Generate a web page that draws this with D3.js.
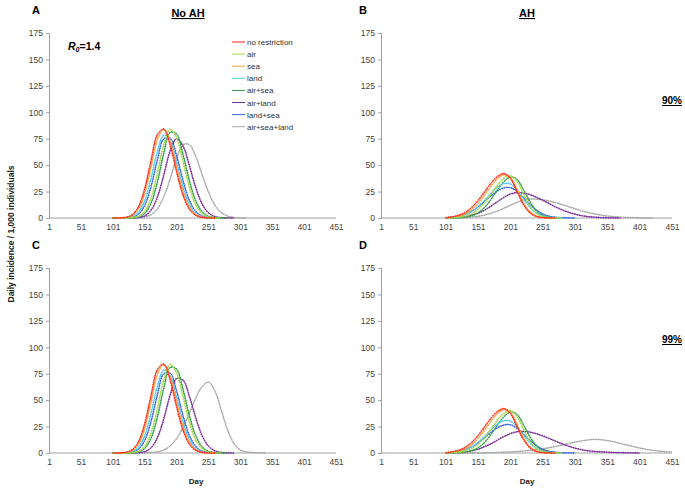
<!DOCTYPE html>
<html>
<head>
<meta charset="utf-8">
<script src="https://cdn.jsdelivr.net/npm/d3@7"></script>
<style>
  body { margin: 0; background: #fff; }
  svg { font-family: Arial, "Liberation Sans", sans-serif; }
  .tick text { fill: #444; font-size: 8.5px; }
</style>
</head>
<body>
<svg id="chart" width="685" height="489"></svg>
<script>
// days sampled every 10 days, first value at day 101
var days = d3.range(101, 452, 10)
var xTicks = [1, 51, 101, 151, 201, 251, 301, 351, 401, 451]
var yTicks = [0, 25, 50, 75, 100, 125, 150, 175]

var seriesNames = ['no restriction', 'air', 'sea', 'land', 'air+sea', 'air+land', 'land+sea', 'air+sea+land']
var seriesColors = ['#ff2a1a', '#a8d84a', '#ffa040', '#48c8ee', '#2f9a4a', '#7a2a9a', '#3a64e0', '#a8a8a8']

// A: No AH, 90%
var noRestrA = [0, 0.1, 0.6, 2.8, 10.3, 27.6, 54.4, 78.8, 84.0, 68.8, 43.9, 21.8, 8.4, 2.5, 0.6, 0.1, 0]
var airA = [0, 0, 0, 0.3, 1.5, 6.3, 19.1, 42.6, 69.7, 84.0, 75.9, 53.5, 29.4, 12.6, 4.2, 1.1, 0.2, 0]
var seaA = [0, 0.1, 0.4, 2.1, 8.0, 22.9, 48.1, 74.1, 84.0, 72.2, 48.4, 25.3, 10.3, 3.3, 0.8, 0.2, 0]
var landA = [0, 0, 0.2, 1.2, 5.2, 16.3, 37.4, 63.3, 78.5, 72.9, 52.7, 29.6, 13.0, 4.4, 1.2, 0.2, 0]
var airSeaA = [0, 0, 0, 0.1, 0.9, 4.2, 14.0, 34.1, 61.4, 81.0, 79.3, 60.3, 35.6, 16.4, 5.9, 1.6, 0.4, 0.1, 0]
var airLandA = [0, 0, 0, 0.1, 0.4, 2.0, 7.3, 19.8, 40.7, 63.4, 75.0, 68.4, 49.8, 28.9, 13.4, 4.9, 1.4, 0.3, 0.1, 0]
var landSeaA = [0, 0, 0.1, 0.7, 3.4, 11.8, 29.7, 55.1, 75.0, 75.6, 58.9, 35.7, 16.8, 6.2, 1.8, 0.4, 0.1, 0]
var allA = [0, 0, 0, 0, 0.2, 0.9, 3.1, 8.8, 20.0, 37.2, 56.3, 69.2, 69.5, 58.4, 41.3, 24.5, 12.2, 5.1, 1.8, 0.5, 0.1, 0]

// C: No AH, 99% (only the last two differ from A)
var airLandC = [0, 0, 0, 0, 0.2, 1.3, 4.9, 14.5, 32.4, 54.9, 70.4, 69.1, 53.9, 33.5, 16.5, 6.5, 2.0, 0.5, 0.1, 0]
var allC = [0, 0, 0, 0, 0, 0.1, 0.4, 1.1, 2.9, 6.7, 13.6, 24.1, 37.7, 51.9, 62.8, 67.0, 59.1, 40.7, 21.8, 9.0, 2.9, 1.0, 0.4, 0.1, 0]

// B: AH, 90%
var noRestrB = [0.2, 1.1, 2.6, 5.3, 9.9, 16.5, 24.6, 32.9, 39.3, 42.0, 37.5, 25.5, 13.1, 5.1, 1.5, 0.3, 0.1, 0]
var airB = [0.1, 0.2, 0.7, 1.8, 4.0, 8.1, 14.4, 22.5, 31.0, 37.5, 40.0, 34.8, 23.0, 11.5, 4.4, 1.3, 0.3, 0.1, 0]
var seaB = [0.2, 0.7, 1.7, 3.9, 7.7, 13.7, 21.5, 29.9, 37.1, 40.8, 38.3, 27.5, 14.9, 6.1, 1.9, 0.5, 0.1, 0]
var landB = [0.2, 0.6, 1.5, 3.1, 6.1, 10.7, 16.7, 23.3, 29.1, 32.5, 32.2, 26.7, 18.3, 10.4, 4.9, 1.9, 0.6, 0.2, 0]
var airSeaB = [0, 0.1, 0.2, 0.8, 2.1, 4.9, 9.9, 17.4, 26.4, 34.4, 38.7, 36.7, 27.2, 15.7, 7.0, 2.5, 0.7, 0.2, 0]
var airLandB = [0.1, 0.3, 0.6, 1.3, 2.6, 4.6, 7.4, 11.2, 15.4, 19.5, 22.6, 24.0, 23.6, 22.2, 19.8, 16.8, 13.6, 10.5, 7.7, 5.4, 3.6, 2.2, 1.3, 0.8, 0.4, 0.2, 0.1, 0]
var landSeaB = [0.3, 0.8, 1.7, 3.5, 6.3, 10.3, 15.4, 20.9, 25.6, 28.5, 28.7, 25.4, 19.5, 13.1, 7.7, 3.9, 1.7, 0.7, 0.3, 0.1, 0]
var allB = [0, 0.1, 0.2, 0.4, 0.8, 1.6, 2.7, 4.4, 6.6, 9.2, 12.1, 14.7, 16.8, 17.9, 17.9, 17.3, 16.1, 14.5, 12.7, 10.7, 8.8, 6.9, 5.3, 3.9, 2.8, 1.9, 1.3, 0.8, 0.5, 0.3, 0.2, 0.1, 0]

// D: AH, 99%
var landD = [0.2, 0.6, 1.4, 2.9, 5.7, 10.0, 15.7, 21.9, 27.3, 30.5, 30.2, 25.1, 17.2, 9.8, 4.6, 1.8, 0.6, 0.2, 0]
var landSeaD = [0.3, 0.7, 1.6, 3.3, 5.9, 9.6, 14.3, 19.5, 23.8, 26.5, 26.7, 23.6, 18.1, 12.2, 7.2, 3.6, 1.6, 0.7, 0.3, 0.1, 0]
var airLandD = [0.1, 0.2, 0.5, 1.1, 2.1, 3.6, 5.9, 8.7, 12.1, 15.5, 18.3, 20.1, 20.5, 19.8, 18.3, 16.2, 13.7, 11.1, 8.7, 6.4, 4.6, 3.1, 2.1, 1.5, 1.1, 0.8, 0.5, 0.3, 0.2, 0.1, 0]
var allD = [0, 0, 0, 0, 0, 0.1, 0.2, 0.3, 0.5, 0.7, 1.0, 1.4, 1.9, 2.5, 3.2, 4.0, 5.0, 6.2, 7.5, 8.9, 10.2, 11.4, 12.4, 12.9, 12.6, 11.8, 10.6, 9.1, 7.6, 6.1, 4.7, 3.5, 2.5, 1.8, 1.2, 0.8]

var panels = [
	{ letter: 'A', x0: 49, x1: 336, top: 33, bottom: 218, lx: 32,
	  series: [noRestrA, airA, seaA, landA, airSeaA, airLandA, landSeaA, allA] },
	{ letter: 'B', x0: 381, x1: 672, top: 33, bottom: 218, lx: 359,
	  series: [noRestrB, airB, seaB, landB, airSeaB, airLandB, landSeaB, allB] },
	{ letter: 'C', x0: 49, x1: 336, top: 268, bottom: 453, lx: 32,
	  series: [noRestrA, airA, seaA, landA, airSeaA, airLandC, landSeaA, allC] },
	{ letter: 'D', x0: 381, x1: 672, top: 268, bottom: 453, lx: 359,
	  series: [noRestrB, airB, seaB, landD, airSeaB, airLandD, landSeaD, allD] }
]

var svg = d3.select('#chart')

panels.forEach(function(p) {

	var x = d3.scaleLinear().domain([1, 451]).range([p.x0, p.x1])
	var y = d3.scaleLinear().domain([0, 175]).range([p.bottom, p.top])

	var g = svg.append('g')

	// y axis
	var yAxis = g.append('g')
		.attr('transform', 'translate(' + p.x0 + ',0)')
		.call(d3.axisLeft(y).tickValues(yTicks).tickSize(3).tickPadding(3))
	yAxis.selectAll('path, line').attr('stroke', '#a0a0a0')

	// x axis
	var xAxis = g.append('g')
		.attr('transform', 'translate(0,' + p.bottom + ')')
		.call(d3.axisBottom(x).tickValues(xTicks).tickSize(0).tickPadding(6).tickFormat(d3.format('d')))
	xAxis.selectAll('path, line').attr('stroke', '#a0a0a0')
	xAxis.select('.domain').attr('d', 'M' + p.x0 + ',0H' + p.x1)

	var line = d3.line()
		.x(function(d, i) { return x(days[i]) })
		.y(function(d) { return y(d) })
		.curve(d3.curveCatmullRom)

	// draw back to front so red is on top
	for (var k = p.series.length - 1; k >= 0; k--) {
		g.append('path')
			.datum(p.series[k])
			.attr('fill', 'none')
			.attr('stroke', seriesColors[k])
			.attr('stroke-width', 1)
			.attr('d', line)
		// little markers give the dotted look of the original
		g.append('path')
			.datum(p.series[k])
			.attr('fill', 'none')
			.attr('stroke', seriesColors[k])
			.attr('stroke-width', 1.8)
			.attr('stroke-dasharray', '0.8,1.6')
			.attr('d', line)
	}

	g.append('text')
		.attr('x', p.lx)
		.attr('y', p.top - 19)
		.attr('font-size', 11)
		.attr('font-weight', 'bold')
		.text(p.letter)
})

// column titles
svg.append('text').attr('x', 188).attr('y', 17).attr('text-anchor', 'middle')
	.attr('font-size', 11).attr('font-weight', 'bold').attr('text-decoration', 'underline').text('No AH')
svg.append('text').attr('x', 527).attr('y', 17).attr('text-anchor', 'middle')
	.attr('font-size', 11).attr('font-weight', 'bold').attr('text-decoration', 'underline').text('AH')

// row labels
svg.append('text').attr('x', 682).attr('y', 104).attr('text-anchor', 'end')
	.attr('font-size', 10).attr('font-weight', 'bold').attr('text-decoration', 'underline').text('90%')
svg.append('text').attr('x', 682).attr('y', 343).attr('text-anchor', 'end')
	.attr('font-size', 10).attr('font-weight', 'bold').attr('text-decoration', 'underline').text('99%')

// R0 label
var r0 = svg.append('text').attr('x', 68).attr('y', 50).attr('font-size', 10.5).attr('font-weight', 'bold')
r0.append('tspan').attr('font-style', 'italic').text('R')
r0.append('tspan').attr('font-style', 'italic').attr('font-size', 7).attr('dy', 2).text('0')
r0.append('tspan').attr('dy', -2).text('=1.4')

// legend
var legend = svg.append('g').attr('transform', 'translate(232,42)')
seriesNames.forEach(function(name, i) {
	var row = legend.append('g').attr('transform', 'translate(0,' + (i * 12.1) + ')')
	row.append('line').attr('x1', 0).attr('x2', 13).attr('stroke', seriesColors[i]).attr('stroke-width', 1)
	row.append('text').attr('x', 15).attr('y', 3).attr('font-size', 8).attr('fill', '#333').text(name)
})

// axis titles
svg.append('text')
	.attr('transform', 'translate(14,234) rotate(-90)')
	.attr('text-anchor', 'middle')
	.attr('font-size', 8.5).attr('font-weight', 'bold').attr('fill', '#222')
	.text('Daily incidence / 1,000 individuals')
svg.append('text').attr('x', 196).attr('y', 484).attr('text-anchor', 'middle')
	.attr('font-size', 8).attr('font-weight', 'bold').attr('fill', '#222').text('Day')
svg.append('text').attr('x', 527).attr('y', 484).attr('text-anchor', 'middle')
	.attr('font-size', 8).attr('font-weight', 'bold').attr('fill', '#222').text('Day')
</script>
</body>
</html>
